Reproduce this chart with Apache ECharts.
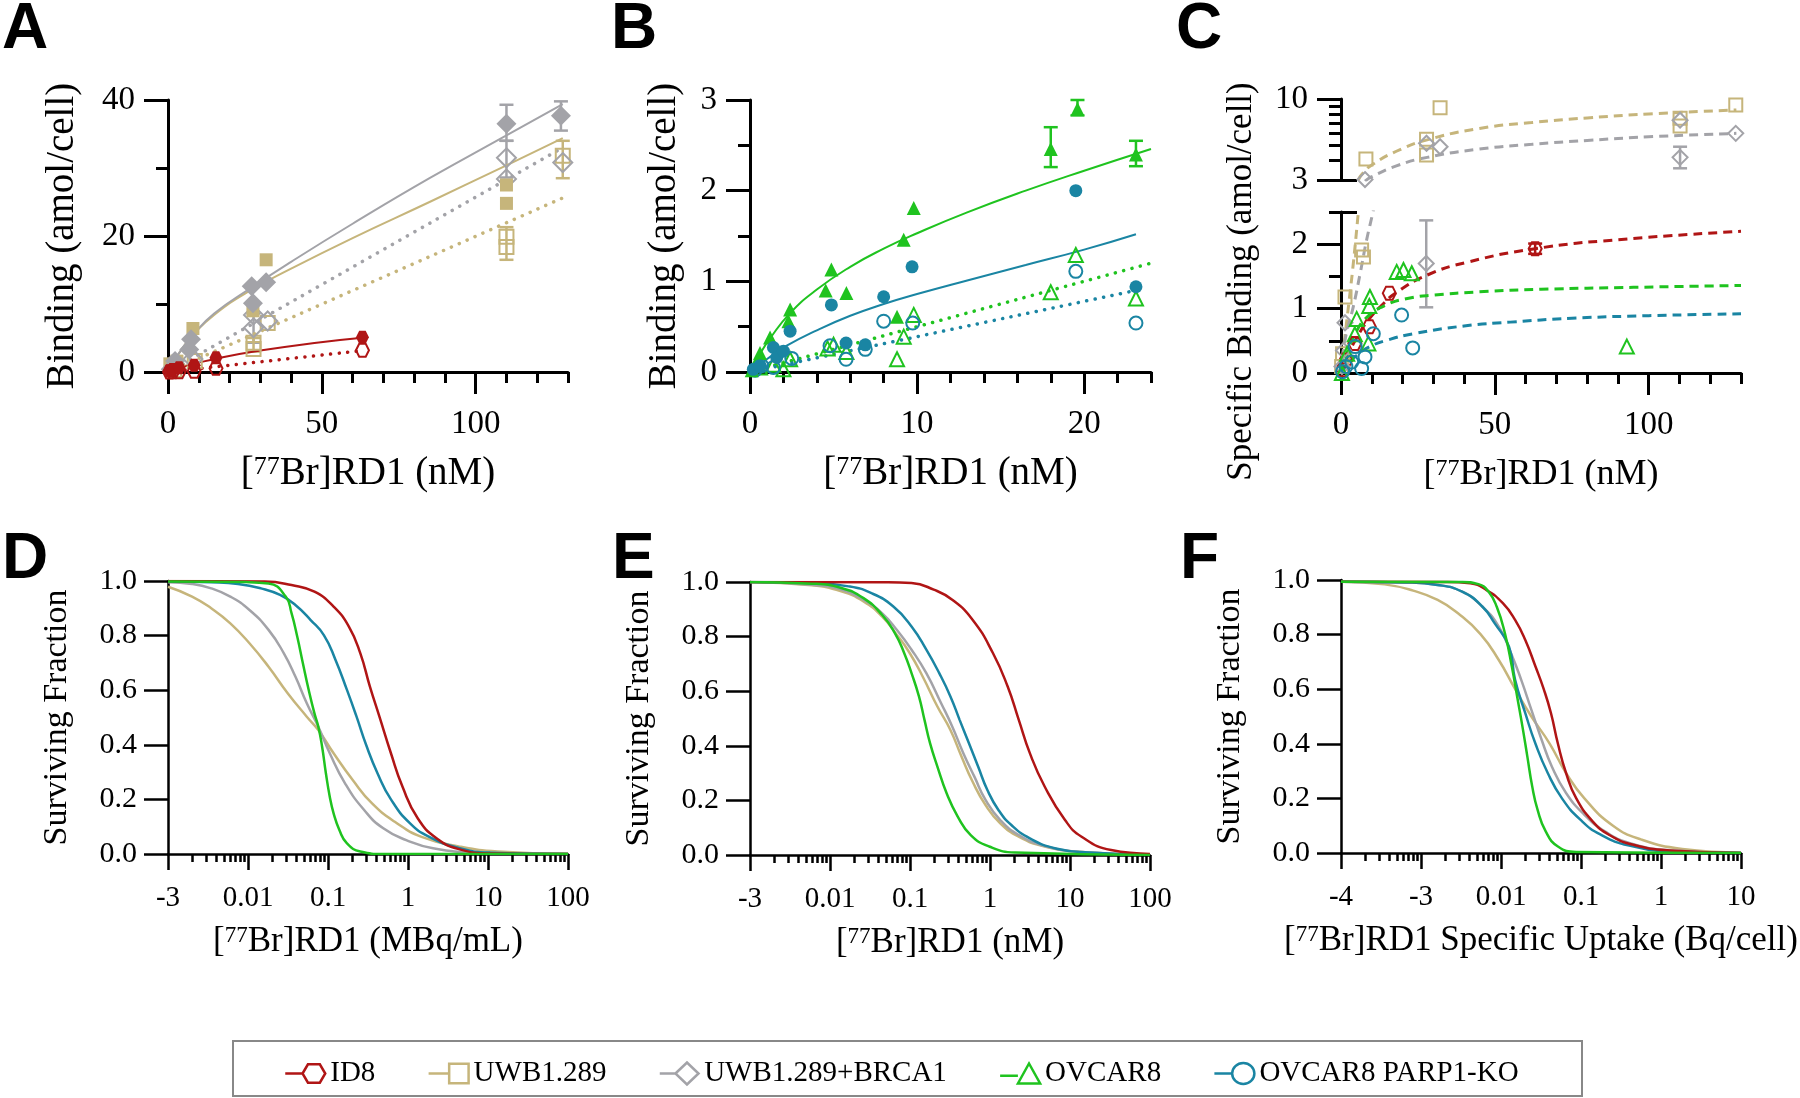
<!DOCTYPE html>
<html><head><meta charset="utf-8">
<script src="https://cdn.jsdelivr.net/npm/echarts@6/dist/echarts.min.js"></script>
<style>html,body{margin:0;padding:0;background:#fff}#c{width:1800px;height:1098px}</style>
</head><body><div id="c"></div>
<script>
// ---------------- series names & colours ----------------
const NAMES = ['ID8', 'UWB1.289', 'UWB1.289+BRCA1', 'OVCAR8', 'OVCAR8 PARP1-KO'];
const COL = { ID8: '#b01515', UWB: '#c6b57b', BRCA: '#a3a3a8', OV: '#1fc31f', KO: '#1a85a3' };

// ---------------- Panel A : binding (amol/cell) vs nM ----------------
const A_ID8_TOTAL = [[0.5,0.2],[1.5,0.35],[3.6,0.64],[8.5,1.0],[15.6,2.1],[63.2,5.1]];
const A_ID8_NS = [[0.5,0.0],[1.5,0.05],[3.6,0.05],[8.5,0.1],[15.6,0.54],[63.2,3.2]];
const A_UWB_TOTAL = [[0.6,1.2],[2.9,1.6],[8.1,6.4],[27.6,9.0],[31.9,16.5],[110,27.5],[110,24.8]];
const A_UWB_NS = [[2,0.3],[8.7,1.6],[27.8,3.4],[27.8,4.3],[32.4,7.2],[110,19.9],[110,18.4],[128.3,31.8]];
const A_BRCA_TOTAL = [[0.9,0.4],[2.3,1.6],[6.9,3.3],[7.5,4.8],[27.2,12.6],[27.6,10.1],[31.9,13.2],[110,36.5],[127.7,37.7]];
const A_BRCA_NS = [[2,0.5],[8.1,1.9],[27.8,6.5],[27.8,8.4],[32.4,7.5],[110,31.5],[110,28.4],[128.3,30.8]];
const A_BRCA_TOTAL_ERR = [[110,34.0,39.3],[127.7,35.5,39.8]];
const A_BRCA_NS_ERR = [[110,28.6,34.0],[27.8,4.3,8.6]];
const A_UWB_NS_ERR = [[110,16.5,21.3],[128.3,28.5,34.0],[27.8,3.0,5.0]];
const A_ID8_FIT = [[0,0],[2,0.35],[5,0.8],[9,1.25],[16,2.0],[30,3.15],[49,4.35],[63.2,5.05]];
const A_ID8_NS_FIT = [[0,0],[63.2,3.15]];
const A_UWB_FIT = [[0,0],[2,1.6],[5,3.7],[8,5.4],[15,8.4],[26.4,11.9],[40,15.2],[60,19.7],[85,25.0],[110,30.4],[128.3,34.4]];
const A_UWB_NS_FIT = [[0,0],[128.3,25.6]];
const A_BRCA_FIT = [[0,0],[2,1.6],[5,3.7],[8,5.4],[15,8.6],[26.4,12.2],[40,16.2],[60,21.8],[85,28.5],[110,34.8],[128.3,39.4]];
const A_BRCA_NS_FIT = [[0,0],[128.3,33.0]];

// ---------------- Panel B ----------------
const B_OV_TOTAL = [[0.1,0.02],[0.3,0.08],[0.6,0.21],[1.2,0.38],[2.3,0.56],[2.4,0.69],[4.53,0.90],[4.87,1.13],[5.77,0.87],[8.8,0.61],[9.2,1.46],[9.8,1.81],[18.0,2.46],[19.6,2.90],[23.1,2.40]];
const B_OV_TOTAL_ERR = [[18.0,2.26,2.70],[19.6,2.83,3.0],[23.1,2.27,2.55]];
const B_OV_NS = [[0.6,0.05],[1.4,0.08],[2.0,0.03],[2.4,0.14],[4.64,0.26],[5.0,0.3],[5.77,0.22],[8.8,0.14],[9.2,0.39],[9.8,0.63],[18.0,0.88],[19.5,1.29],[23.1,0.81]];
const B_KO_TOTAL = [[0.2,0.03],[0.6,0.07],[1.4,0.27],[1.6,0.16],[2.0,0.23],[2.4,0.45],[4.87,0.74],[5.75,0.32],[6.9,0.30],[8.0,0.83],[9.7,1.16],[19.5,2.0],[23.1,0.94]];
const B_KO_NS = [[0.3,0.02],[0.7,0.07],[1.4,0.05],[2.5,0.15],[4.79,0.29],[5.75,0.14],[6.9,0.25],[8.0,0.56],[9.74,0.54],[19.5,1.11],[23.1,0.54]];
const B_OV_FIT = [[0,0],[0.6,0.2],[1.2,0.37],[2.4,0.65],[4,0.91],[6,1.16],[8,1.36],[10,1.53],[13,1.76],[16.5,2.0],[20,2.22],[24,2.46]];
const B_OV_NS_FIT = [[0,0],[24,1.2]];
const B_KO_FIT = [[0,0],[1,0.14],[2.2,0.29],[4,0.46],[6,0.62],[8,0.75],[10,0.86],[13,1.01],[16.5,1.18],[20,1.35],[23.1,1.52]];
const B_KO_NS_FIT = [[0,0],[23.1,0.9]];

// ---------------- Panel C : specific binding ----------------
const C_ID8 = [[0.5,0.05],[1.6,0.2],[4.5,0.46],[9.2,0.72],[15.7,1.24],[63.1,1.93]];
const C_UWB = [[0.2,0.1],[0.5,0.3],[1.3,1.18],[6.7,1.91],[7.3,1.8],[8.1,4.1],[27.8,4.35],[27.8,5.5],[32.2,8.79],[110.2,6.7],[110.2,7.5],[128.3,9.15]];
const C_BRCA = [[0.3,0.1],[0.8,0.35],[1.3,0.78],[7.8,3.02],[27.7,1.70],[27.8,5.18],[32.2,4.92],[110.2,4.2],[110.2,7.3],[128.3,6.0]];
const C_OV = [[0.3,0.0],[2,0.3],[4.5,0.6],[5.1,0.84],[8.9,0.46],[9.2,1.04],[9.4,1.18],[18.1,1.57],[20.3,1.6],[23,1.55],[92.9,0.41]];
const C_KO = [[0.5,0.02],[1.6,0.1],[3.5,0.17],[4.6,0.41],[6.7,0.07],[7.8,0.25],[10.5,0.61],[19.7,0.9],[23.3,0.39]];
const C_ID8_ERR = [[63.1,1.85,2.01]];
const C_BRCA_ERR_LOW = [[27.7,1.02,2.37]];
const C_BRCA_ERR_UP = [[110.2,3.57,4.92]];
const C_ID8_FIT = [[0,0],[2,0.24],[5,0.54],[9,0.83],[13,1.04],[18,1.25],[28,1.52],[41,1.72],[63,1.93],[90,2.07],[130,2.2]];
const C_UWB_FIT_LOW = [[0,0],[1,0.45],[2.9,1.23],[4,1.7],[5.6,2.48],[6,2.7]];
const C_UWB_FIT_UP = [[5.6,3.0],[7,3.3],[10,3.75],[18,4.6],[28,5.45],[45,6.45],[62,7.05],[80,7.55],[100,8.0],[128.5,8.5]];
const C_BRCA_FIT_LOW = [[0,0],[1.3,0.51],[4,1.03],[6.2,1.54],[8.3,2.06],[10.3,2.48],[10.8,2.6]];
const C_BRCA_FIT_UP = [[7.8,2.95],[10,3.15],[18,3.7],[28,4.2],[45,4.75],[62,5.1],[80,5.4],[100,5.7],[128.5,6.0]];
const C_OV_FIT = [[0,0],[2,0.32],[4.5,0.6],[8.3,0.86],[14.8,1.06],[22,1.16],[30,1.21],[45,1.26],[65,1.3],[95,1.33],[130,1.36]];
const C_KO_FIT = [[0,0],[2,0.13],[5,0.27],[9.4,0.41],[15,0.51],[23.5,0.61],[40,0.73],[55,0.79],[75,0.85],[100,0.89],[130,0.92]];

// ---------------- Panel D : surviving fraction vs MBq/mL ----------------
const D_ID8 = [[0.001,1.0],[0.0162,0.998],[0.035,0.985],[0.0677,0.961],[0.1175,0.906],[0.1824,0.833],[0.2537,0.735],[0.3342,0.613],[0.4395,0.503],[0.6119,0.369],[0.8518,0.247],[1.322,0.131],[2.293,0.057],[4.436,0.017],[10.7,0.002],[100,0]];
const D_UWB = [[0.001,0.979],[0.002,0.943],[0.00347,0.900],[0.00601,0.845],[0.01043,0.772],[0.01807,0.686],[0.03133,0.589],[0.0543,0.503],[0.0757,0.454],[0.1175,0.369],[0.2037,0.271],[0.3532,0.186],[0.6837,0.118],[1.476,0.063],[4.436,0.027],[13.3,0.009],[100,0.001]];
const D_BRCA = [[0.001,0.995],[0.002,0.989],[0.00347,0.973],[0.00601,0.943],[0.01043,0.894],[0.01807,0.821],[0.02808,0.735],[0.0391,0.650],[0.0543,0.552],[0.0757,0.466],[0.1052,0.369],[0.1633,0.259],[0.2831,0.161],[0.4909,0.094],[0.9506,0.051],[2.056,0.021],[7.69,0.005],[100,0]];
const D_OV = [[0.001,0.998],[0.00934,0.996],[0.01807,0.991],[0.0296,0.943],[0.035,0.882],[0.0413,0.796],[0.0486,0.698],[0.0574,0.601],[0.0677,0.515],[0.0757,0.466],[0.0844,0.393],[0.0942,0.295],[0.1052,0.210],[0.1175,0.149],[0.1387,0.088],[0.1726,0.039],[0.2537,0.009],[0.4909,0],[100,0]];
const D_KO = [[0.001,0.998],[0.00347,0.995],[0.0075,0.989],[0.01452,0.973],[0.02516,0.949],[0.0391,0.912],[0.0607,0.857],[0.0891,0.801],[0.1242,0.711],[0.1726,0.601],[0.2275,0.503],[0.2993,0.400],[0.4169,0.295],[0.6119,0.200],[1.062,0.112],[1.841,0.063],[4.436,0.021],[10.7,0.005],[100,0]];

// ---------------- Panel E : surviving fraction vs nM ----------------
const E_ID8 = [[0.001,1.0],[0.0497,0.999],[0.1045,0.996],[0.198,0.972],[0.337,0.935],[0.605,0.862],[1.087,0.740],[1.663,0.617],[2.289,0.495],[3.148,0.373],[4.82,0.251],[8.66,0.128],[13.96,0.067],[32.7,0.018],[100,0.004]];
const E_UWB = [[0.001,1.0],[0.00592,0.988],[0.01384,0.966],[0.02624,0.929],[0.04464,0.874],[0.0683,0.807],[0.0991,0.740],[0.1439,0.654],[0.220,0.544],[0.320,0.458],[0.440,0.361],[0.605,0.269],[0.879,0.183],[1.343,0.116],[2.289,0.067],[4.82,0.031],[13.96,0.011],[100,0.001]];
const E_BRCA = [[0.001,1.0],[0.00592,0.990],[0.01384,0.972],[0.02624,0.935],[0.04464,0.886],[0.0683,0.825],[0.1045,0.752],[0.160,0.666],[0.245,0.556],[0.337,0.471],[0.464,0.373],[0.638,0.287],[0.879,0.202],[1.343,0.128],[2.289,0.073],[4.82,0.033],[13.96,0.011],[100,0.001]];
const E_OV = [[0.001,1.0],[0.00592,0.994],[0.01384,0.978],[0.02624,0.941],[0.04464,0.880],[0.0647,0.813],[0.0845,0.740],[0.1045,0.666],[0.1294,0.581],[0.1517,0.495],[0.178,0.410],[0.220,0.324],[0.287,0.226],[0.395,0.141],[0.574,0.073],[0.977,0.031],[2.057,0.009],[100,0]];
const E_KO = [[0.001,1.0],[0.00592,0.996],[0.01713,0.984],[0.03246,0.960],[0.0614,0.911],[0.1045,0.837],[0.160,0.752],[0.232,0.666],[0.320,0.581],[0.417,0.495],[0.544,0.410],[0.710,0.324],[0.927,0.238],[1.274,0.165],[1.849,0.110],[3.148,0.061],[6.64,0.024],[17.3,0.009],[100,0.001]];

// ---------------- Panel F : surviving fraction vs Bq/cell ----------------
const F_ID8 = [[0.0001,0.994],[0.00204,0.993],[0.00413,0.988],[0.0066,0.963],[0.01055,0.915],[0.015,0.854],[0.02012,0.780],[0.02698,0.683],[0.03414,0.601],[0.04216,0.512],[0.05148,0.400],[0.06503,0.293],[0.0873,0.200],[0.1396,0.116],[0.2234,0.067],[0.4511,0.030],[1.297,0.009],[10,0]];
const F_UWB = [[0.0001,0.994],[0.000351,0.984],[0.000798,0.961],[0.001614,0.927],[0.0029,0.878],[0.00554,0.802],[0.00938,0.707],[0.015,0.601],[0.02399,0.500],[0.04072,0.400],[0.06503,0.293],[0.1103,0.200],[0.2512,0.100],[0.5707,0.049],[1.845,0.015],[10,0.002]];
const F_BRCA = [[0.0001,0.994],[0.000631,0.991],[0.001614,0.982],[0.00327,0.957],[0.00587,0.902],[0.00938,0.829],[0.01334,0.732],[0.0179,0.634],[0.02399,0.524],[0.03219,0.415],[0.04318,0.317],[0.06503,0.220],[0.1103,0.140],[0.1986,0.079],[0.4011,0.037],[1.297,0.010],[10,0]];
const F_OV = [[0.0001,0.994],[0.00327,0.993],[0.00522,0.985],[0.007,0.957],[0.00885,0.902],[0.01119,0.805],[0.01366,0.683],[0.01591,0.573],[0.01854,0.463],[0.02133,0.354],[0.02455,0.244],[0.02862,0.159],[0.03621,0.079],[0.05148,0.024],[0.0873,0.004],[10,0]];
const F_KO = [[0.0001,0.994],[0.000631,0.991],[0.001614,0.982],[0.00327,0.957],[0.00587,0.902],[0.00835,0.841],[0.01259,0.756],[0.015,0.634],[0.02012,0.512],[0.02698,0.400],[0.0384,0.293],[0.05786,0.200],[0.0981,0.122],[0.1766,0.067],[0.4011,0.027],[1.297,0.006],[10,0]];

// ---------------- tick values & labels ----------------
const A_X_MAJOR = [0, 50, 100];
const A_X_MINOR = [10, 20, 30, 40, 60, 70, 80, 90, 110, 120, 130];
const A_Y_MAJOR = [0, 20, 40];
const A_Y_MINOR = [10, 30];
const B_X_MAJOR = [0, 10, 20];
const B_X_MINOR = [2, 4, 6, 8, 12, 14, 16, 18, 22, 24];
const B_Y_MAJOR = [0, 1, 2, 3];
const B_Y_MINOR = [0.5, 1.5, 2.5];
const C_LOW_MAJOR = [0, 1, 2];
const C_LOW_MINOR = [0.5, 1.5, 2.5];
const C_UP_MAJOR = [3, 10];
const C_UP_MINOR = [4, 5, 6, 7, 8, 9];
const SF_MAJOR = [0, 0.2, 0.4, 0.6, 0.8, 1.0];
const DE_DECADES = [0.001, 0.01, 0.1, 1, 10, 100];
const DE_LABELS = ['-3', '0.01', '0.1', '1', '10', '100'];
const F_DECADES = [0.0001, 0.001, 0.01, 0.1, 1, 10];
const F_LABELS = ['-4', '-3', '0.01', '0.1', '1', '10'];

// ---------------- helpers ----------------
const FONT = 'Liberation Serif';
function logMinor(decades) {
  const out = [];
  for (let i = 0; i < decades.length - 1; i++) for (let k = 2; k <= 9; k++) out.push(+(decades[i] * k).toPrecision(6));
  return out;
}
function logFmt(decades, labels) {
  return function (v) {
    for (let i = 0; i < decades.length; i++) if (Math.abs(Math.log10(v) - Math.log10(decades[i])) < 1e-6) return labels[i];
    return '';
  };
}
const grid = [], xAxis = [], yAxis = [], series = [];
function addGrid(l, t, w, h) { grid.push({ left: l, top: t, width: w, height: h, containLabel: false, outerBoundsMode: 'none' }); return grid.length - 1; }
function nameStyle(size, extra) {
  return Object.assign({ fontFamily: FONT, fontSize: size, color: '#000',
    rich: { sup: { fontFamily: FONT, fontSize: Math.round(size * 0.66), color: '#000', verticalAlign: 'top' } } }, extra || {});
}
function axes(list, g, c) {
  const lw = c.lw || 3;
  const base = { gridIndex: g, type: c.type, min: c.min, max: c.max, position: c.pos, splitLine: { show: false }, axisPointer: { show: false }, silent: true };
  if (c.type === 'log') base.logBase = 10;
  const main = Object.assign({}, base, {
    show: c.show !== false,
    axisLine: { show: true, onZero: false, lineStyle: { color: '#000', width: lw } },
    axisTick: { show: true, length: c.majorLen, customValues: c.major, lineStyle: { color: '#000', width: lw } },
    axisLabel: { show: true, customValues: c.labelVals || c.major, formatter: c.fmt, fontFamily: FONT, fontSize: c.ls, color: '#000', margin: c.lm }
  });
  if (c.name) { main.name = c.name; main.nameLocation = 'middle'; main.nameGap = c.ng; if (c.rot) main.nameRotate = c.rot; main.nameTextStyle = nameStyle(c.ns, c.nameExtra); }
  list.push(main); const idx = list.length - 1;
  if (c.minor && c.show !== false) list.push(Object.assign({}, base, { axisLine: { show: false }, axisTick: { show: true, length: c.minorLen, customValues: c.minor, lineStyle: { color: '#000', width: lw } }, axisLabel: { show: false } }));
  if (c.cap) list.push(Object.assign({}, base, { axisLine: { show: false }, axisTick: { show: true, inside: true, length: 16, customValues: c.cap, lineStyle: { color: '#000', width: lw } }, axisLabel: { show: false } }));
  return idx;
}
const plain = v => String(v);
const one = v => v.toFixed(1);

function scatter(name, data, xi, yi, symbol, color, filled, size, z) {
  series.push({ type: 'scatter', name, data, xAxisIndex: xi, yAxisIndex: yi, symbol, symbolSize: size, z: z || 5, silent: true,
    itemStyle: filled ? { color: color, opacity: 1 } : { color: 'rgba(255,255,255,0)', borderColor: color, borderWidth: 2, opacity: 1 } });
}
const DOT = [0.1, 8.5];
const DASH = [9, 6];
function curve(name, data, xi, yi, color, width, type, z) {
  series.push({ type: 'line', name, data, xAxisIndex: xi, yAxisIndex: yi, showSymbol: false, symbol: 'none', smooth: 0.5,
    clip: true, silent: true, z: z || 3, lineStyle: { color, width, type: type || 'solid', cap: (type === DOT) ? 'round' : 'butt' } });
}
function errbar(name, data, xi, yi, color) {
  series.push({ type: 'custom', name, data, xAxisIndex: xi, yAxisIndex: yi, z: 2, silent: true, encode: { x: 0, y: [1, 2] },
    renderItem: function (params, api) {
      const x = api.value(0), p1 = api.coord([x, api.value(1)]), p2 = api.coord([x, api.value(2)]), w = 7;
      const st = { stroke: color, lineWidth: 2.5 };
      return { type: 'group', children: [
        { type: 'line', shape: { x1: p1[0], y1: p1[1], x2: p2[0], y2: p2[1] }, style: st },
        { type: 'line', shape: { x1: p1[0] - w, y1: p1[1], x2: p1[0] + w, y2: p1[1] }, style: st },
        { type: 'line', shape: { x1: p2[0] - w, y1: p2[1], x2: p2[0] + w, y2: p2[1] }, style: st }
      ] };
    } });
}
const HEX = 'path://M0,50 L25,6.7 L75,6.7 L100,50 L75,93.3 L25,93.3 Z';

// ---------------- Panel A ----------------
const gA = addGrid(168, 100, 400, 272);
const axA = axes(xAxis, gA, { type: 'value', min: 0, max: 130, pos: 'bottom', major: A_X_MAJOR, minor: A_X_MINOR, majorLen: 22, minorLen: 11, fmt: plain, ls: 33, lm: 36,
  name: '[{sup|77}Br]RD1 (nM)', ng: 82, ns: 39 });
const ayA = axes(yAxis, gA, { type: 'value', min: 0, max: 40, pos: 'left', major: A_Y_MAJOR, minor: A_Y_MINOR, majorLen: 24, minorLen: 12, fmt: plain, ls: 33, lm: 33,
  name: 'Binding (amol/cell)', ng: 86, ns: 39, rot: 90 });
curve('ID8', A_ID8_FIT, axA, ayA, COL.ID8, 2);
curve('ID8', A_ID8_NS_FIT, axA, ayA, COL.ID8, 3.5, DOT);
curve('UWB1.289', A_UWB_FIT, axA, ayA, COL.UWB, 2);
curve('UWB1.289', A_UWB_NS_FIT, axA, ayA, COL.UWB, 3.5, DOT);
curve('UWB1.289+BRCA1', A_BRCA_FIT, axA, ayA, COL.BRCA, 2);
curve('UWB1.289+BRCA1', A_BRCA_NS_FIT, axA, ayA, COL.BRCA, 3.5, DOT);
errbar('UWB1.289+BRCA1', A_BRCA_TOTAL_ERR, axA, ayA, COL.BRCA);
errbar('UWB1.289+BRCA1', A_BRCA_NS_ERR, axA, ayA, COL.BRCA);
errbar('UWB1.289', A_UWB_NS_ERR, axA, ayA, COL.UWB);
scatter('UWB1.289', A_UWB_NS, axA, ayA, 'rect', COL.UWB, false, 14);
scatter('UWB1.289+BRCA1', A_BRCA_NS, axA, ayA, 'diamond', COL.BRCA, false, 19);
scatter('UWB1.289', A_UWB_TOTAL, axA, ayA, 'rect', COL.UWB, true, 13);
scatter('UWB1.289+BRCA1', A_BRCA_TOTAL, axA, ayA, 'diamond', COL.BRCA, true, 20);
scatter('ID8', A_ID8_NS, axA, ayA, HEX, COL.ID8, false, 13);
scatter('ID8', A_ID8_TOTAL, axA, ayA, HEX, COL.ID8, true, 13);

// ---------------- Panel B ----------------
const gB = addGrid(750, 100, 401, 272);
const axB = axes(xAxis, gB, { type: 'value', min: 0, max: 24, pos: 'bottom', major: B_X_MAJOR, minor: B_X_MINOR, majorLen: 22, minorLen: 11, fmt: plain, ls: 33, lm: 36,
  name: '[{sup|77}Br]RD1 (nM)', ng: 82, ns: 39 });
const ayB = axes(yAxis, gB, { type: 'value', min: 0, max: 3, pos: 'left', major: B_Y_MAJOR, minor: B_Y_MINOR, majorLen: 24, minorLen: 12, fmt: plain, ls: 33, lm: 33,
  name: 'Binding (amol/cell)', ng: 66, ns: 39, rot: 90 });
curve('OVCAR8', B_OV_FIT, axB, ayB, COL.OV, 2);
curve('OVCAR8', B_OV_NS_FIT, axB, ayB, COL.OV, 3.5, DOT);
curve('OVCAR8 PARP1-KO', B_KO_FIT, axB, ayB, COL.KO, 2);
curve('OVCAR8 PARP1-KO', B_KO_NS_FIT, axB, ayB, COL.KO, 3.5, DOT);
errbar('OVCAR8', B_OV_TOTAL_ERR, axB, ayB, COL.OV);
scatter('OVCAR8', B_OV_NS, axB, ayB, 'triangle', COL.OV, false, 14);
scatter('OVCAR8 PARP1-KO', B_KO_NS, axB, ayB, 'circle', COL.KO, false, 13);
scatter('OVCAR8', B_OV_TOTAL, axB, ayB, 'triangle', COL.OV, true, 14);
scatter('OVCAR8 PARP1-KO', B_KO_TOTAL, axB, ayB, 'circle', COL.KO, true, 13);

// ---------------- Panel C (broken y axis: log upper, linear lower) ----------------
const gCu = addGrid(1341, 99, 400, 81);
const gCl = addGrid(1341, 212, 400, 161);
const axCu = axes(xAxis, gCu, { type: 'value', min: 0, max: 130, pos: 'bottom', show: false, major: A_X_MAJOR });
const ayCu = axes(yAxis, gCu, { type: 'log', min: 3, max: 10, pos: 'left', major: C_UP_MAJOR, minor: C_UP_MINOR, cap: [3], majorLen: 24, minorLen: 12, fmt: plain, ls: 33, lm: 33 });
const axCl = axes(xAxis, gCl, { type: 'value', min: 0, max: 130, pos: 'bottom', major: A_X_MAJOR, minor: A_X_MINOR, majorLen: 22, minorLen: 11, fmt: plain, ls: 33, lm: 36,
  name: '[{sup|77}Br]RD1 (nM)', ng: 84, ns: 36 });
const ayCl = axes(yAxis, gCl, { type: 'value', min: 0, max: 2.5, pos: 'left', major: C_LOW_MAJOR, minor: C_LOW_MINOR, cap: [2.5], majorLen: 24, minorLen: 12, fmt: plain, ls: 33, lm: 33,
  name: 'Specific Binding (amol/cell)', ng: 82, ns: 35, rot: 90, nameExtra: { padding: [0, 0, 0, 22] } });
const CSETS = [
  ['ID8', C_ID8, HEX, COL.ID8, 13],
  ['UWB1.289', C_UWB, 'rect', COL.UWB, 13],
  ['UWB1.289+BRCA1', C_BRCA, 'diamond', COL.BRCA, 15],
  ['OVCAR8', C_OV, 'triangle', COL.OV, 14],
  ['OVCAR8 PARP1-KO', C_KO, 'circle', COL.KO, 13]
];
curve('ID8', C_ID8_FIT, axCl, ayCl, COL.ID8, 3, DASH);
curve('UWB1.289', C_UWB_FIT_LOW, axCl, ayCl, COL.UWB, 3, DASH);
curve('UWB1.289', C_UWB_FIT_UP, axCu, ayCu, COL.UWB, 3, DASH);
curve('UWB1.289+BRCA1', C_BRCA_FIT_LOW, axCl, ayCl, COL.BRCA, 3, DASH);
curve('UWB1.289+BRCA1', C_BRCA_FIT_UP, axCu, ayCu, COL.BRCA, 3, DASH);
curve('OVCAR8', C_OV_FIT, axCl, ayCl, COL.OV, 3, DASH);
curve('OVCAR8 PARP1-KO', C_KO_FIT, axCl, ayCl, COL.KO, 3, DASH);
errbar('ID8', C_ID8_ERR, axCl, ayCl, COL.ID8);
errbar('UWB1.289+BRCA1', C_BRCA_ERR_LOW, axCl, ayCl, COL.BRCA);
errbar('UWB1.289+BRCA1', C_BRCA_ERR_UP, axCu, ayCu, COL.BRCA);
CSETS.forEach(s => {
  scatter(s[0], s[1], axCl, ayCl, s[2], s[3], false, s[4]);
  scatter(s[0], s[1].filter(p => p[1] >= 3), axCu, ayCu, s[2], s[3], false, s[4]);
});

// ---------------- Panels D, E, F ----------------
function survPanel(left, top, xmin, xmax, decades, labels, xname, sets) {
  const g = addGrid(left, top, 400, 273);
  const xi = axes(xAxis, g, { type: 'log', min: xmin, max: xmax, pos: 'bottom', major: decades, minor: logMinor(decades), majorLen: 16, minorLen: 8, lw: 2.5,
    fmt: logFmt(decades, labels), ls: 29, lm: 30, name: xname, ng: 70, ns: 35 });
  const yi = axes(yAxis, g, { type: 'value', min: 0, max: 1, pos: 'left', major: SF_MAJOR, majorLen: 24, lw: 2.5, fmt: one, ls: 30, lm: 31,
    name: 'Surviving Fraction', ng: 94, ns: 34, rot: 90 });
  sets.forEach(s => curve(s[0], s[1], xi, yi, s[2], 2.5));
}
survPanel(168, 581, 0.001, 100, DE_DECADES, DE_LABELS, '[{sup|77}Br]RD1 (MBq/mL)', [
  ['UWB1.289', D_UWB, COL.UWB], ['UWB1.289+BRCA1', D_BRCA, COL.BRCA], ['OVCAR8 PARP1-KO', D_KO, COL.KO], ['ID8', D_ID8, COL.ID8], ['OVCAR8', D_OV, COL.OV]]);
survPanel(750, 582, 0.001, 100, DE_DECADES, DE_LABELS, '[{sup|77}Br]RD1 (nM)', [
  ['UWB1.289', E_UWB, COL.UWB], ['UWB1.289+BRCA1', E_BRCA, COL.BRCA], ['OVCAR8 PARP1-KO', E_KO, COL.KO], ['ID8', E_ID8, COL.ID8], ['OVCAR8', E_OV, COL.OV]]);
survPanel(1341, 580, 0.0001, 10, F_DECADES, F_LABELS, '[{sup|77}Br]RD1 Specific Uptake (Bq/cell)', [
  ['UWB1.289', F_UWB, COL.UWB], ['UWB1.289+BRCA1', F_BRCA, COL.BRCA], ['OVCAR8 PARP1-KO', F_KO, COL.KO], ['ID8', F_ID8, COL.ID8], ['OVCAR8', F_OV, COL.OV]]);

// ---------------- legend ----------------
const LEG_ICON = {
  'ID8': 'path://M0 11 L16 11 M16 11 L21 2.5 L32 2.5 L37 11 L32 19.5 L21 19.5 Z',
  'UWB1.289': 'path://M0 11 L18 11 M18 2.5 L35 2.5 L35 19.5 L18 19.5 Z',
  'UWB1.289+BRCA1': 'path://M0 11 L15 11 M15 11 L26 0.5 L37 11 L26 21.5 Z',
  'OVCAR8': 'path://M0 13 L16 13 M16 20 L26 2 L36 20 Z',
  'OVCAR8 PARP1-KO': 'path://M0 11 L16 11 M16 11 A10 9.5 0 1 1 36 11 A10 9.5 0 1 1 16 11 Z'
};
const LEG_COL = { 'ID8': COL.ID8, 'UWB1.289': COL.UWB, 'UWB1.289+BRCA1': COL.BRCA, 'OVCAR8': COL.OV, 'OVCAR8 PARP1-KO': COL.KO };

const option = {
  animation: false,
  backgroundColor: '#fff',
  grid, xAxis, yAxis, series,
  legend: {
    show: true, left: 279, top: 1054, itemGap: 52, itemWidth: 40, itemHeight: 22, selectedMode: false,
    textStyle: { fontFamily: FONT, fontSize: 29, color: '#000' },
    data: NAMES.map(n => ({ name: n, icon: LEG_ICON[n], itemStyle: { color: 'rgba(255,255,255,0)', borderColor: LEG_COL[n], borderWidth: 2.5 } }))
  },
  graphic: [
    { type: 'rect', shape: { x: 233, y: 1041, width: 1349, height: 55 }, style: { fill: 'none', stroke: '#888', lineWidth: 2 }, silent: true },
    { type: 'text', x: 2, y: -2, style: { text: 'A', font: 'bold 64px "Liberation Sans"', fill: '#000' } },
    { type: 'text', x: 611, y: -2, style: { text: 'B', font: 'bold 64px "Liberation Sans"', fill: '#000' } },
    { type: 'text', x: 1176, y: -2, style: { text: 'C', font: 'bold 64px "Liberation Sans"', fill: '#000' } },
    { type: 'text', x: 2, y: 528, style: { text: 'D', font: 'bold 64px "Liberation Sans"', fill: '#000' } },
    { type: 'text', x: 612, y: 528, style: { text: 'E', font: 'bold 64px "Liberation Sans"', fill: '#000' } },
    { type: 'text', x: 1180, y: 528, style: { text: 'F', font: 'bold 64px "Liberation Sans"', fill: '#000' } }
  ]
};
const chart = echarts.init(document.getElementById('c'), null, { renderer: 'canvas', width: 1800, height: 1098 });
chart.setOption(option);
</script>
</body></html>
